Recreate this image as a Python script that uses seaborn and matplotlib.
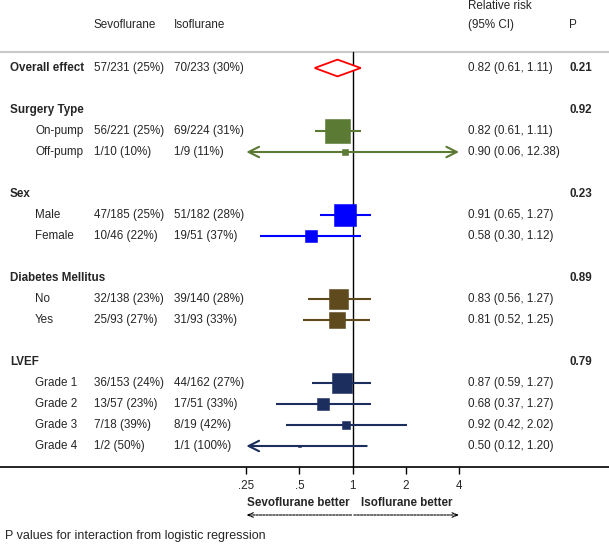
import matplotlib
matplotlib.use("Agg")
import matplotlib.pyplot as plt
import seaborn as sns
import numpy as np
import pandas as pd
from matplotlib.transforms import blended_transform_factory

# ---------------- data ----------------
overall_label = "Overall effect"
overall_sevo = [57, 231]
overall_iso = [70, 233]
overall_rr = [0.82, 0.61, 1.11]
overall_p = "0.21"

groups = ["Surgery Type", "Sex", "Diabetes Mellitus", "LVEF"]
group_p = ["0.92", "0.23", "0.89", "0.79"]

sub_group = ["Surgery Type", "Surgery Type", "Sex", "Sex",
             "Diabetes Mellitus", "Diabetes Mellitus",
             "LVEF", "LVEF", "LVEF", "LVEF"]
sub_label = ["On-pump", "Off-pump", "Male", "Female", "No", "Yes",
             "Grade 1", "Grade 2", "Grade 3", "Grade 4"]
sevo_events = [56, 1, 47, 10, 32, 25, 36, 13, 7, 1]
sevo_total = [221, 10, 185, 46, 138, 93, 153, 57, 18, 2]
iso_events = [69, 1, 51, 19, 39, 31, 44, 17, 8, 1]
iso_total = [224, 9, 182, 51, 140, 93, 162, 51, 19, 1]
rr = [0.82, 0.90, 0.91, 0.58, 0.83, 0.81, 0.87, 0.68, 0.92, 0.50]
ci_lo = [0.61, 0.06, 0.65, 0.30, 0.56, 0.52, 0.59, 0.37, 0.42, 0.12]
ci_hi = [1.11, 12.38, 1.27, 1.12, 1.27, 1.25, 1.27, 1.27, 2.02, 1.20]

xticks = [0.25, 0.5, 1, 2, 4]
xtick_labels = [".25", ".5", "1", "2", "4"]

# ---------------- style ----------------
group_colors = {"Surgery Type": "#5b7a34", "Sex": "#0000ff",
                "Diabetes Mellitus": "#5e4a1c", "LVEF": "#1c2e5e"}

sns.set_theme(style="white")
plt.rcParams["font.family"] = ["Liberation Sans", "DejaVu Sans"]
FS = 8.4

W, H, DPI = 609, 544, 100
fig = plt.figure(figsize=(W / DPI, H / DPI), dpi=DPI)
ax = fig.add_axes([0, 0, 1, 1])
ax.set_xscale("log")
# 1 -> 352.7px, 53.2 px per doubling
x0px, perdbl = 352.7, 53.2
XL = (2 ** (-x0px / perdbl), 2 ** ((W - x0px) / perdbl))
y0px, rowpx = 68, 21
def rowy(px):
    return (px - y0px) / rowpx
YL = (rowy(H), rowy(0))

tx = blended_transform_factory(fig.transFigure, ax.transData)
def fx(px):
    return px / W

col_label, col_sub, col_sevo, col_iso, col_rr, col_p = 10, 35, 94, 174, 468, 569

def fmt(e, n):
    return f"{e}/{n} ({round(100 * e / n):.0f}%)"

# ---------------- rows ----------------
records = []
header_rows = {}
r = 0
for g in groups:
    r += 2
    header_rows[g] = r
    for i, sg in enumerate(sub_group):
        if sg == g:
            r += 1
            records.append(dict(row=r, group=g, label=sub_label[i], rr=rr[i],
                                lo=ci_lo[i], hi=ci_hi[i],
                                sevo=fmt(sevo_events[i], sevo_total[i]),
                                iso=fmt(iso_events[i], iso_total[i]),
                                n=sevo_total[i] + iso_total[i]))
df = pd.DataFrame(records)
axis_row = r + 1

# markers (seaborn)
side_px = 1.1 * np.sqrt(df["n"].to_numpy()) + 1
df["s"] = (side_px * 72 / DPI) ** 2
sns.scatterplot(data=df, x="rr", y="row", hue="group", palette=group_colors,
                marker="s", s=df["s"].to_numpy(), linewidth=0.4, edgecolor="face",
                legend=False, ax=ax, zorder=3)
ax.set_xscale("log")
ax.set_xlim(*XL)
ax.set_ylim(*YL)
ax.axis("off")

# headers
ax.text(fx(col_sevo), rowy(25), "Sevoflurane", transform=tx, fontsize=FS, va="center")
ax.text(fx(col_iso), rowy(25), "Isoflurane", transform=tx, fontsize=FS, va="center")
ax.text(fx(col_rr), rowy(6), "Relative risk", transform=tx, fontsize=FS, va="center")
ax.text(fx(col_rr), rowy(25), "(95% CI)", transform=tx, fontsize=FS, va="center")
ax.text(fx(col_p), rowy(25), "P", transform=tx, fontsize=FS, va="center")

top_row = rowy(52)
ax.axhline(top_row, color="#c8c8c8", lw=1.5, zorder=1)

# overall
ax.text(fx(col_label), 0, overall_label, transform=tx, fontsize=FS, va="center", fontweight="bold")
ax.text(fx(col_sevo), 0, fmt(*overall_sevo), transform=tx, fontsize=FS, va="center")
ax.text(fx(col_iso), 0, fmt(*overall_iso), transform=tx, fontsize=FS, va="center")
ax.text(fx(col_rr), 0, f"{overall_rr[0]:.2f} ({overall_rr[1]:.2f}, {overall_rr[2]:.2f})",
        transform=tx, fontsize=FS, va="center")
ax.text(fx(col_p), 0, overall_p, transform=tx, fontsize=FS, va="center", fontweight="bold")
dh = 0.4
ax.fill([overall_rr[1], overall_rr[0], overall_rr[2], overall_rr[0]],
        [0, -dh, 0, dh], facecolor="white", edgecolor="red", lw=1.3, zorder=4)

# group headers
for g, p in zip(groups, group_p):
    ax.text(fx(col_label), header_rows[g], g, transform=tx, fontsize=FS, va="center", fontweight="bold")
    ax.text(fx(col_p), header_rows[g], p, transform=tx, fontsize=FS, va="center", fontweight="bold")

# subgroup rows
xmin, xmax = xticks[0], xticks[-1]
for _, d in df.iterrows():
    ax.text(fx(col_sub), d.row, d.label, transform=tx, fontsize=FS, va="center")
    ax.text(fx(col_sevo), d.row, d.sevo, transform=tx, fontsize=FS, va="center")
    ax.text(fx(col_iso), d.row, d.iso, transform=tx, fontsize=FS, va="center")
    ax.text(fx(col_rr), d.row, f"{d.rr:.2f} ({d.lo:.2f}, {d.hi:.2f})",
            transform=tx, fontsize=FS, va="center")
    left, right = max(d.lo, xmin), min(d.hi, xmax)
    la, ra = d.lo < xmin, d.hi > xmax
    style = {(False, False): "-", (True, False): "<-", (False, True): "->", (True, True): "<->"}[(la, ra)]
    if style == "-":
        ax.plot([left, right], [d.row, d.row], color=group_colors[d.group], lw=1.5, zorder=2,
                solid_capstyle="butt")
    else:
        ax.annotate("", xy=(right, d.row), xytext=(left, d.row),
                    arrowprops=dict(arrowstyle=style + ",head_length=0.5,head_width=0.25",
                                    color=group_colors[d.group], lw=1.5,
                                    shrinkA=0, shrinkB=0, mutation_scale=15), zorder=2)

# reference line and axis
ax.plot([1, 1], [top_row, axis_row], color="black", lw=1.0, zorder=1)
ax.axhline(axis_row, color="black", lw=1.2, zorder=1)
ax.vlines(xticks, axis_row, axis_row + 0.33, color="black", lw=1.0)
for t, lab in zip(xticks, xtick_labels):
    ax.text(t, rowy(486), lab, ha="center", va="center", fontsize=FS)

ax.text(0.955, rowy(503), "Sevoflurane better", ha="right", va="center", fontsize=FS, fontweight="bold")
ax.text(1.11, rowy(503), "Isoflurane better", ha="left", va="center", fontsize=FS, fontweight="bold")
ya = rowy(515)
ax.annotate("", xy=(xmin, ya), xytext=(0.985, ya),
            arrowprops=dict(arrowstyle="->,head_length=0.5,head_width=0.2", color="black",
                            lw=0.8, ls=(0, (2, 1)), shrinkA=0, shrinkB=0, mutation_scale=8))
ax.annotate("", xy=(xmax, ya), xytext=(1.015, ya),
            arrowprops=dict(arrowstyle="->,head_length=0.5,head_width=0.2", color="black",
                            lw=0.8, ls=(0, (2, 1)), shrinkA=0, shrinkB=0, mutation_scale=8))

ax.text(fx(5), rowy(536), "P values for interaction from logistic regression",
        transform=tx, fontsize=9, va="center")

fig.savefig("out.png", dpi=DPI)
